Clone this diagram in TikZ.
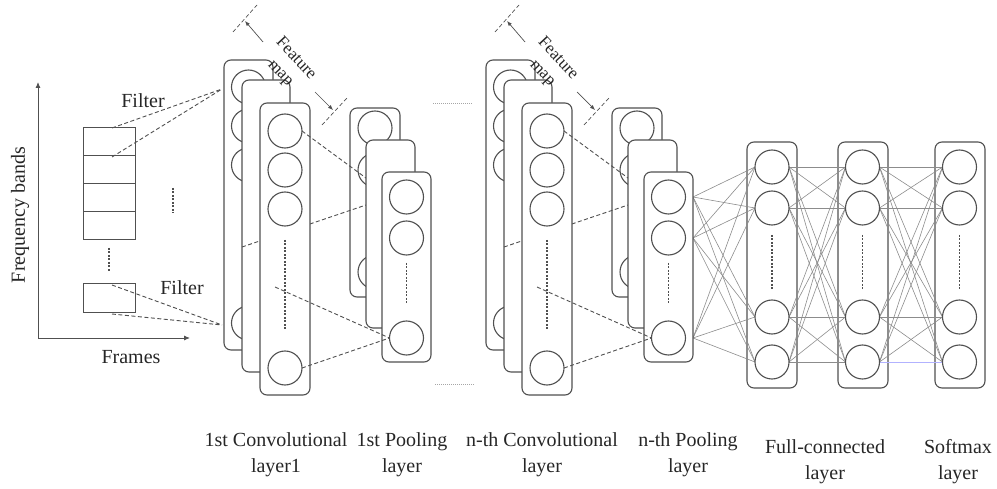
\documentclass[tikz,border=0pt]{standalone}
\usepackage{fontspec}
\setmainfont{Liberation Serif}
\usetikzlibrary{calc,arrows.meta}
\definecolor{bx}{HTML}{505050}
\definecolor{ln}{HTML}{8C8C8C}
\pgfdeclarelayer{boxes}
\pgfdeclarelayer{lines}
\pgfsetlayers{boxes,lines,main}
\begin{document}
\begin{tikzpicture}[x=1pt,y=-1pt,
  lbox/.style={draw=bx,line width=1.1pt,rounded corners=7pt,fill=white,inner sep=0pt,outer sep=0pt,anchor=north west},
  neuron/.style={circle,draw=bx,line width=1.1pt,fill=white,minimum size=34pt,inner sep=0pt,outer sep=0pt},
  cell/.style={draw=bx,line width=1pt,anchor=north west,minimum width=52pt,inner sep=0pt,outer sep=0pt},
  fdash/.style={draw=bx,line width=0.9pt,dash pattern=on 4pt off 2.5pt},
  vdot/.style={draw=bx,line width=1.2pt,dash pattern=on 2pt off 1.5pt},
  conn/.style={draw=ln,line width=0.6pt},
  lbl/.style={font=\fontsize{20}{26}\selectfont,align=center,text=black!85,inner sep=0pt},
  arr/.style={draw=bx,line width=0.7pt,-{Latex[length=5pt,width=4pt]}},
]
\useasboundingbox (0,0) rectangle (997,489);

% ---------- input spectrogram ----------
\coordinate (orig) at (38,338);
\coordinate (ytip) at (38,82);
\coordinate (xtip) at (190,338);
\draw[draw=bx,line width=0.9pt,-{Latex[length=6pt,width=5pt]}] (orig) -- (ytip);
\draw[draw=bx,line width=0.9pt,-{Latex[length=6pt,width=5pt]}] (orig) -- (xtip);
\node[lbl,rotate=90] (ylab) at (20,215) {Frequency bands};
\node[lbl] (xlab) at (131,357) {Frames};

\foreach \i/\y in {1/128,2/156,3/184,4/212}
  \node[cell,minimum height=28pt] (cell\i) at (83,\y) {};
\node[cell,minimum height=29pt] (fsm) at (83,284) {};
\draw[vdot] (109,248) -- (109,272);
\draw[vdot] (173,188) -- (173,213);
\node[lbl] (filt1) at (143,101) {Filter};
\node[lbl] (filt2) at (182,288) {Filter};

\coordinate (ftop) at (222,89);
\coordinate (fbot) at (222,325);
\coordinate (c1n) at (112,128);
\coordinate (c2n) at (112,157);
\coordinate (fsn) at (112,285);
\coordinate (fss) at (112,314);

% ---------- convolution / pooling sections ----------
\foreach \s/\dx in {1/0,2/262} {
\begin{scope}[xshift=\dx pt]
  \node[lbox,minimum width=49pt,minimum height=290pt] (cbA\s) at (224,60) {};
  \foreach \i/\y in {1/87,2/126,3/165,4/323}
    \node[neuron] (cA\s\i) at (248.5,\y) {};
  \node[lbox,minimum width=48pt,minimum height=292pt] (cbB\s) at (242,80) {};
  \node[lbox,minimum width=50pt,minimum height=189pt] (pbA\s) at (350,108) {};
  \foreach \i/\y in {1/128,2/170,3/272}
    \node[neuron] (pA\s\i) at (375,\y) {};
  \coordinate (lbs\s) at (242,247);
  \coordinate (lbe\s) at (366,205);
  \draw[fdash] (lbs\s) -- (lbe\s);
  \node[lbox,minimum width=50pt,minimum height=292pt] (cbC\s) at (260,103) {};
  \foreach \i/\y in {1/131,2/170,3/209,4/368}
    \node[neuron] (cC\s\i) at (285,\y) {};
  \draw[vdot] (285,240) -- (285,330);
  \coordinate (lae\s) at (366,178);
  \draw[fdash] (cC\s1.east) -- (lae\s);
  \node[lbox,minimum width=49pt,minimum height=188pt] (pbB\s) at (366,140) {};
  \node[lbox,minimum width=49pt,minimum height=190pt] (pbC\s) at (382,172) {};
  \foreach \i/\y in {1/197,2/238,3/338}
    \node[neuron] (pC\s\i) at (406.5,\y) {};
  \draw[vdot] (406.5,263) -- (406.5,305);
  \coordinate (lcs\s) at (275,287);
  \draw[fdash] (lcs\s) -- (pC\s3.west);
  \draw[fdash] (cC\s4.east) -- (pC\s3.west);
  % feature map annotation
  \draw[fdash,line width=0.7pt] (233,32) -- (257,5);
  \coordinate (fa\s) at (245,21);
  \coordinate (fb\s) at (263,42);
  \draw[arr] (fb\s) -- (fa\s);
  \node[rotate=-47,font=\fontsize{17}{21}\selectfont,align=center,inner sep=1pt,text=black!85] (fm\s) at (288,66) {Feature\\map};
  \coordinate (fc\s) at (315,92);
  \coordinate (fd\s) at (333,110);
  \draw[arr] (fc\s) -- (fd\s);
  \draw[fdash,line width=0.7pt] (322,125) -- (347,98);
\end{scope}
}

\draw[fdash] (c1n) -- (ftop);
\draw[fdash] (c2n) -- (ftop);
\draw[fdash] (fsn) -- (fbot);
\draw[fdash] (fss) -- (fbot);

% dotted separators
\draw[draw=gray!70,line width=0.8pt,dash pattern=on 1pt off 1pt] (433,103) -- (472,103);
\draw[draw=gray!70,line width=0.8pt,dash pattern=on 1pt off 1pt] (435,384) -- (475,384);

% ---------- fully connected + softmax ----------
\begin{pgfonlayer}{boxes}
\foreach \n/\bxx in {F/747,G/838,S/935}
  \node[lbox,minimum width=50pt,minimum height=246pt] (box\n) at (\bxx,142) {};
\end{pgfonlayer}
\foreach \n/\x in {F/772,G/862.5,S/959.5} {
  \foreach \i/\y in {1/167,2/208,3/317,4/362}
    \node[neuron] (\n\i) at (\x,\y) {};
  \draw[vdot] (\x,235) -- (\x,290);
}
\begin{pgfonlayer}{lines}
\foreach \i in {1,2,3}
  \foreach \j in {1,...,4}
    \draw[conn] (pC2\i.east -| pbC2.east) -- (F\j.west);
\foreach \i in {1,...,4}
  \foreach \j in {1,...,4}
    \draw[conn] (F\i.east) -- (G\j.west);
\foreach \i in {1,...,4}
  \foreach \j in {1,...,4} {
    \ifnum\i\j=44 \def\cc{blue!30}\else\def\cc{ln}\fi
    \draw[conn,draw=\cc] (G\i.east) -- (S\j.west);
  }
\end{pgfonlayer}

% ---------- labels ----------
\node[lbl] (t1) at (276,455) {1st Convolutional\\layer1};
\node[lbl] (t2) at (402,455) {1st Pooling\\layer};
\node[lbl] (t3) at (542,455) {n-th Convolutional\\layer};
\node[lbl] (t4) at (688,455) {n-th Pooling\\layer};
\node[lbl] (t5) at (825,462) {Full-connected\\layer};
\node[lbl] (t6) at (958,462) {Softmax\\layer};
\end{tikzpicture}
\end{document}
